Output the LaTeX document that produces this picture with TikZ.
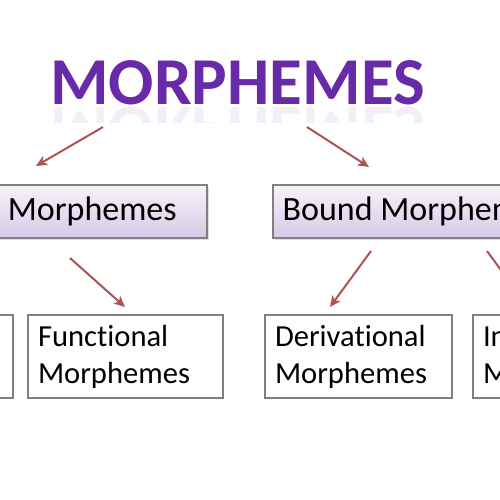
\documentclass[tikz,border=0pt]{standalone}
\usepackage{fontspec}
\setmainfont[Ligatures=NoCommon]{Carlito}
\usetikzlibrary{arrows.meta,shadows}
\definecolor{titlepurple}{RGB}{104,42,168}
\definecolor{arrowred}{RGB}{172,84,84}
\definecolor{boxborder}{RGB}{128,128,128}
\definecolor{boxtop}{RGB}{246,243,250}
\definecolor{boxbottom}{RGB}{214,202,232}
\tikzset{
  midbox/.style={draw=boxborder, line width=1.3pt, top color=boxtop, bottom color=boxbottom,
    minimum height=53pt, inner sep=0pt, font=\fontsize{34}{40}\selectfont,
    drop shadow={shadow xshift=1.5pt, shadow yshift=-1.5pt, opacity=0.25}},
  leafbox/.style={draw=boxborder, line width=1.3pt, fill=white, minimum height=83pt,
    text width=175pt, align=left, inner xsep=10pt, inner ysep=0pt,
    font=\fontsize{30.6}{37}\selectfont},
  arr/.style={draw=arrowred, line width=2pt, -{Stealth[length=11pt,width=10pt,inset=3pt]}}
}
\begin{document}
\begin{tikzpicture}[x=1pt,y=-1pt]
\useasboundingbox (0,0) rectangle (500,500);
\fill[white] (0,0) rectangle (500,500);
\clip (0,0) rectangle (500,500);
% title and its reflection
\node[anchor=base, inner sep=0pt, text=titlepurple, font=\fontsize{67}{70}\selectfont\bfseries] (title) at (237.5,105) {MORPHEMES};
\begin{scope}
\clip (0,106) rectangle (500,122);
\node[anchor=base, inner sep=0pt, text=titlepurple, text opacity=0.08, font=\fontsize{67}{70}\selectfont\bfseries] (reflect) at (237.5,108) {\scalebox{1}[-1]{MORPHEMES}};
\end{scope}
% middle boxes
\node[midbox, minimum width=298pt] (free) at (58,211.5) {Free Morphemes};
\node[midbox, minimum width=286pt] (bound) at (416,211.5) {Bound Morphemes};
% leaf boxes
\node[leafbox, minimum width=195pt] (lex) at (-84.5,356.5) {\raisebox{-2pt}{Lexical}\\\raisebox{-2pt}{Morphemes}};
\node[leafbox, minimum width=195pt] (func) at (125.5,356.5) {\raisebox{-2pt}{Functional}\\\raisebox{-2pt}{Morphemes}};
\node[leafbox, minimum width=187pt, text width=167pt] (deriv) at (358.5,356.5) {\raisebox{-2pt}{Derivational}\\\raisebox{-2pt}{Morphemes}};
\node[leafbox, minimum width=195pt] (infl) at (570.5,356.5) {\raisebox{-2pt}{Inflectional}\\\raisebox{-2pt}{Morphemes}};
% arrow end points
\coordinate (a1s) at (103,127); \coordinate (a1e) at (36,166);
\coordinate (a2s) at (307,127); \coordinate (a2e) at (369,167);
\coordinate (a3s) at (70,258);  \coordinate (a3e) at (125,307);
\coordinate (a4s) at (371,251); \coordinate (a4e) at (330,307);
\coordinate (a5s) at (487,251); \coordinate (a5e) at (528,307);
\draw[arr] (a1s) -- (a1e);
\draw[arr] (a2s) -- (a2e);
\draw[arr] (a3s) -- (a3e);
\draw[arr] (a4s) -- (a4e);
\draw[arr] (a5s) -- (a5e);
\end{tikzpicture}
\end{document}
